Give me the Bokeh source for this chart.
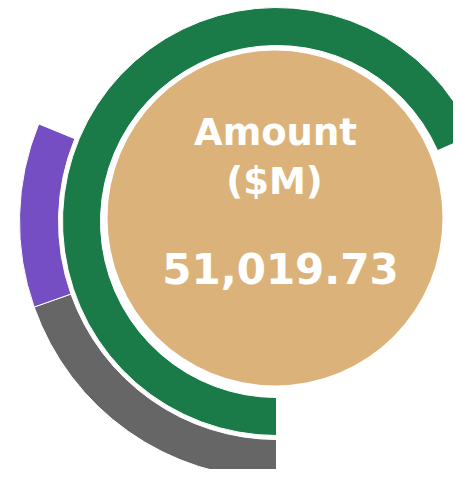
import numpy as np
from bokeh.plotting import figure
from bokeh.models import Range1d, ColumnDataSource
from bokeh.core.properties import value
from bokeh.embed import file_html
from bokeh.resources import INLINE

# ---- data ----
segments = ["Inner", "Outer A", "Outer B"]
ring_of_segment = [0, 1, 1]          # 0 = inner ring, 1 = outer ring
sweep_pct = [68.4, 19.6, 11.6]       # share of a full turn, clockwise from bottom
segment_colors = ["#1A7A48", "#666666", "#744EC2"]
title_lines = ["Amount", "($M)"]
total_amount = 51019.73

# ---- layout ----
W, H = 453, 469
cx_px, cy_px = 276, 221           # ring centre in figure pixels
ring_radii = [(176, 214), (218, 257)]

starts, ends, inner_r, outer_r = [], [], [], []
offset = {0: 0.0, 1: 0.0}
for r, s in zip(ring_of_segment, sweep_pct):
    a0 = offset[r]
    a1 = a0 + s / 100 * 360
    offset[r] = a1
    starts.append(np.deg2rad(270 - a1))
    ends.append(np.deg2rad(270 - a0))
    inner_r.append(ring_radii[r][0])
    outer_r.append(ring_radii[r][1])

src = ColumnDataSource(dict(x=[0] * len(segments), y=[0] * len(segments),
                            start=starts, end=ends, ir=inner_r, orr=outer_r,
                            color=segment_colors, name=segments))

p = figure(width=W, height=H, output_backend="svg", toolbar_location=None,
           x_range=Range1d(-cx_px, W - cx_px), y_range=Range1d(-(H - cy_px), cy_px),
           min_border=0, outline_line_color=None)
p.axis.visible = False
p.grid.visible = False
p.background_fill_color = "white"
p.border_fill_color = "white"

p.annular_wedge(x="x", y="y", inner_radius="ir", outer_radius="orr",
                start_angle="start", end_angle="end", direction="anticlock",
                fill_color="color", line_color="white", line_width=1, source=src)

p.circle(x=[-1.5], y=[3.5], radius=167.5, fill_color="#DBB37A", line_color=None)

font = value("DejaVu Sans")
p.text(x=[-1], y=[89], text=[title_lines[0]], text_font=font, text_font_style="bold",
       text_font_size="37px", text_color="white", text_align="center",
       text_baseline="alphabetic")
p.text(x=[-2], y=[40], text=[title_lines[1]], text_font=font, text_font_style="bold",
       text_font_size="37px", text_color="white", text_align="center",
       text_baseline="alphabetic")
p.text(x=[4], y=[-47], text=[f"{total_amount:,.2f}"], text_font=font,
       text_font_style="bold", text_font_size="42px", text_color="white",
       text_align="center", text_baseline="alphabetic")

open("out.html", "w").write(file_html(p, INLINE))
